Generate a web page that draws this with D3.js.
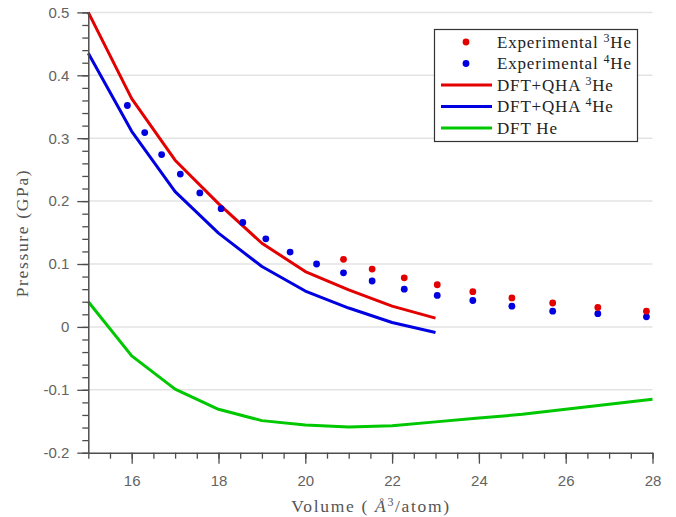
<!DOCTYPE html>
<html>
<head>
<meta charset="utf-8">
<script src="https://cdn.jsdelivr.net/npm/d3@7"></script>
<style>
  html, body { margin: 0; padding: 0; background: #fff; }
  svg { display: block; }
</style>
</head>
<body>
<svg id="chart" width="676" height="517"></svg>
<script>
// Experimental isotherm data (volume in Å^3/atom, pressure in GPa)
const expVolume4He = [15.90, 16.30, 16.69, 17.12, 17.57, 18.06, 18.56, 19.09, 19.65, 20.26,
                      20.88, 21.54, 22.28, 23.04, 23.86, 24.76, 25.70, 26.74, 27.86];
const expPressure4He = [0.352, 0.309, 0.274, 0.243, 0.213, 0.188, 0.166, 0.140, 0.119, 0.100,
                        0.086, 0.073, 0.060, 0.050, 0.042, 0.033, 0.025, 0.021, 0.016];
const expVolume3He = [20.88, 21.54, 22.28, 23.04, 23.86, 24.76, 25.70, 26.74, 27.86];
const expPressure3He = [0.1075, 0.092, 0.078, 0.067, 0.056, 0.046, 0.038, 0.031, 0.025];

// Computed equations of state
const qhaVolume = [15, 16, 17, 18, 19, 20, 21, 22, 23];
const qhaPressure3He = [0.500, 0.363, 0.265, 0.196, 0.133, 0.088, 0.059, 0.033, 0.014];
const qhaPressure4He = [0.435, 0.311, 0.215, 0.149, 0.096, 0.057, 0.030, 0.007, -0.009];
const dftVolume = [15, 16, 17, 18, 19, 20, 21, 22, 23, 24, 25, 26, 27, 28];
const dftPressure = [0.040, -0.046, -0.099, -0.131, -0.149, -0.156, -0.159, -0.157, -0.151,
                     -0.145, -0.139, -0.131, -0.123, -0.115];

// Axis ticks
const xTickValues = [16, 18, 20, 22, 24, 26, 28];
const xTickLabels = ["16", "18", "20", "22", "24", "26", "28"];
const yTickValues = [-0.2, -0.1, 0, 0.1, 0.2, 0.3, 0.4, 0.5];
const yTickLabels = ["-0.2", "-0.1", "0", "0.1", "0.2", "0.3", "0.4", "0.5"];

const RED = "#e30000", BLUE = "#0000e0", GREEN = "#00c800";
const AXIS = "#4d4d4d", TICKTEXT = "#636363", TITLE = "#555";
const SERIF = "'Liberation Serif', 'Times New Roman', serif";

const svg = d3.select("#chart");
svg.append("rect").attr("width", 676).attr("height", 517).attr("fill", "#fff");

const x = d3.scaleLinear().domain([15, 28]).range([88.3, 652.5]);
const y = d3.scaleLinear().domain([-0.2, 0.5]).range([452.7, 12.4]);

// Spread the glyphs of a serif label so it spans the given width
function fitWidth(textSel, width) {
  const node = textSel.node();
  const n = node.getNumberOfChars();
  const len = node.getComputedTextLength();
  const ls = (width - len) / Math.max(1, n - 1);
  textSel.style("letter-spacing", ls + "px");
}

// Horizontal grid
svg.append("g").selectAll("line")
  .data(yTickValues.filter(v => v > -0.2))
  .join("line")
  .attr("x1", x(15)).attr("x2", x(28))
  .attr("y1", d => y(d)).attr("y2", d => y(d))
  .attr("stroke", "#e3e3e3").attr("stroke-width", 1.5);

// Curves
const line = d3.line().x(d => x(d[0])).y(d => y(d[1]));
const curves = [
  { v: qhaVolume, p: qhaPressure3He, color: RED },
  { v: qhaVolume, p: qhaPressure4He, color: BLUE },
  { v: dftVolume, p: dftPressure, color: GREEN }
];
curves.forEach(c => {
  svg.append("path")
    .datum(c.v.map((v, i) => [v, c.p[i]]))
    .attr("d", line)
    .attr("fill", "none")
    .attr("stroke", c.color)
    .attr("stroke-width", 3)
    .attr("stroke-linejoin", "round");
});

// Experimental points
const pointSets = [
  { v: expVolume4He, p: expPressure4He, color: BLUE },
  { v: expVolume3He, p: expPressure3He, color: RED }
];
pointSets.forEach(s => {
  svg.append("g").selectAll("circle")
    .data(s.v.map((v, i) => [v, s.p[i]]))
    .join("circle")
    .attr("cx", d => x(d[0])).attr("cy", d => y(d[1]))
    .attr("r", 3.4).attr("fill", s.color);
});

// Axes: minor ticks first, then major ticks with labels
function styleAxis(g) {
  g.selectAll("line").attr("stroke", AXIS).attr("stroke-width", 1.3);
  g.selectAll("path").attr("stroke", AXIS).attr("stroke-width", 1.5);
  g.selectAll("text").attr("fill", TICKTEXT)
    .style("font-family", "'Liberation Sans', Arial, sans-serif").style("font-size", "15px");
}

const xMinor = d3.range(15, 28.001, 0.5);
svg.append("g").attr("transform", `translate(0,${y(-0.2)})`)
  .call(d3.axisBottom(x).tickValues(xMinor).tickSize(6).tickSizeOuter(0).tickFormat(""))
  .call(g => g.select(".domain").remove())
  .call(styleAxis);
svg.append("g").attr("transform", `translate(0,${y(-0.2)})`)
  .call(d3.axisBottom(x).tickValues(xTickValues).tickSize(11).tickSizeOuter(0)
        .tickPadding(12).tickFormat((d, i) => xTickLabels[i]))
  .call(styleAxis);

const yMinor = d3.range(-0.2, 0.5001, 0.02).map(v => Math.round(v * 100) / 100);
svg.append("g").attr("transform", `translate(${x(15)},0)`)
  .call(d3.axisLeft(y).tickValues(yMinor).tickSize(6).tickSizeOuter(0).tickFormat(""))
  .call(g => g.select(".domain").remove())
  .call(styleAxis);
svg.append("g").attr("transform", `translate(${x(15)},0)`)
  .call(d3.axisLeft(y).tickValues(yTickValues).tickSize(11).tickSizeOuter(0)
        .tickPadding(8).tickFormat((d, i) => yTickLabels[i]))
  .call(styleAxis);

// Axis titles
const yTitle = svg.append("text")
  .attr("transform", "translate(28,233) rotate(-90)")
  .attr("text-anchor", "middle")
  .attr("fill", TITLE)
  .style("font-family", SERIF).style("font-size", "17.5px")
  .text("Pressure (GPa)");
fitWidth(yTitle, 127);

const xTitle = svg.append("text")
  .attr("x", 371).attr("y", 512)
  .attr("text-anchor", "middle")
  .attr("fill", TITLE)
  .style("font-family", SERIF).style("font-size", "17.5px");
xTitle.append("tspan").text("Volume ( ");
xTitle.append("tspan").style("font-style", "italic").text("Å");
xTitle.append("tspan").attr("dy", -6).style("font-size", "12px").text("3");
xTitle.append("tspan").attr("dy", 6).text("/atom)");
fitWidth(xTitle, 158);

// Legend
const legendItems = [
  { type: "dot", color: RED, label: "Experimental ", iso: "3", tail: "He" },
  { type: "dot", color: BLUE, label: "Experimental ", iso: "4", tail: "He" },
  { type: "line", color: RED, label: "DFT+QHA ", iso: "3", tail: "He" },
  { type: "line", color: BLUE, label: "DFT+QHA ", iso: "4", tail: "He" },
  { type: "line", color: GREEN, label: "DFT He", iso: "", tail: "" }
];
const lg = svg.append("g");
lg.append("rect")
  .attr("x", 434.5).attr("y", 29.5).attr("width", 203).attr("height", 112)
  .attr("fill", "#fff").attr("stroke", "#333").attr("stroke-width", 1.2);
let legendSpacing = null;
legendItems.forEach((it, i) => {
  const cy = 42 + i * 21.5;
  if (it.type === "dot") {
    lg.append("circle").attr("cx", 466).attr("cy", cy).attr("r", 3.4).attr("fill", it.color);
  } else {
    lg.append("line").attr("x1", 441).attr("x2", 492).attr("y1", cy).attr("y2", cy)
      .attr("stroke", it.color).attr("stroke-width", 3);
  }
  const t = lg.append("text").attr("x", 497).attr("y", cy + 5.5)
    .attr("fill", "#222")
    .style("font-family", SERIF).style("font-size", "17px");
  t.append("tspan").text(it.label);
  if (it.iso) {
    t.append("tspan").attr("dy", -6).style("font-size", "12px").text(it.iso);
    t.append("tspan").attr("dy", 6).text(it.tail);
  }
  // the first entry sets the letter spacing shared by all entries
  if (legendSpacing === null) {
    fitWidth(t, 134);
    legendSpacing = t.style("letter-spacing");
  } else {
    t.style("letter-spacing", legendSpacing);
  }
});
</script>
</body>
</html>
